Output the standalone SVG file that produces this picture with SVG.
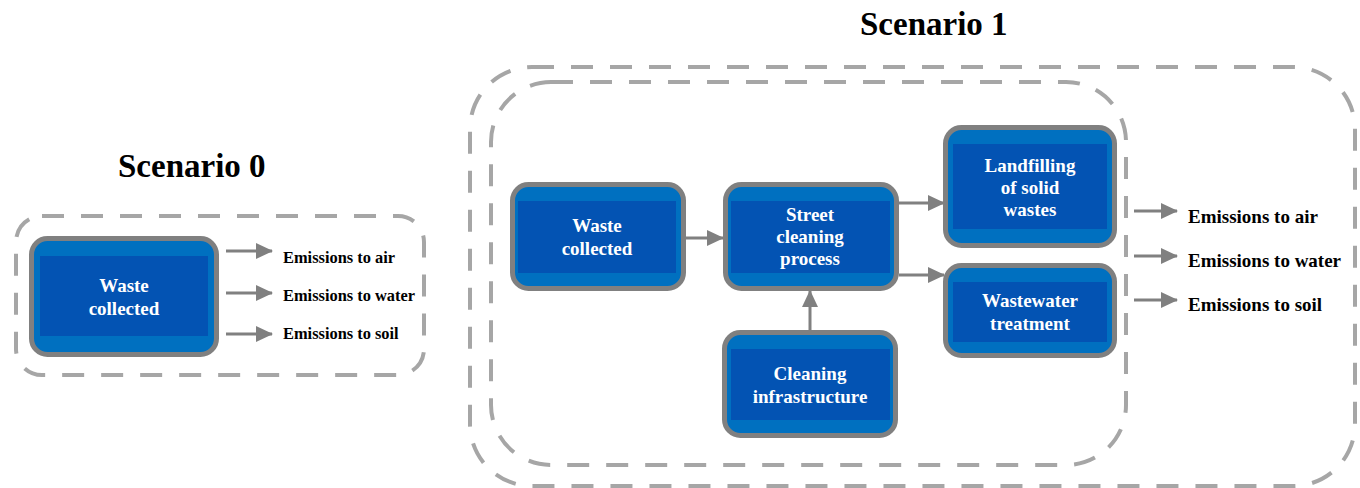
<svg xmlns="http://www.w3.org/2000/svg" width="1360" height="488" viewBox="0 0 1360 488">
<style>
.frame{fill:none;stroke:#a6a6a6;stroke-width:4;stroke-dasharray:22 17}
.outer{fill:#0070c0;stroke:#808080;stroke-width:5}
.inner{fill:#0353b3}
.nt{font-family:"Liberation Serif","Times New Roman",serif;font-weight:bold;font-size:19px;fill:#ffffff;text-anchor:middle}
.lab{font-family:"Liberation Serif","Times New Roman",serif;font-weight:bold;fill:#000000}
.title{font-family:"Liberation Serif","Times New Roman",serif;font-weight:bold;font-size:33px;fill:#000000}
.conn{stroke:#808080;stroke-width:3;fill:none;marker-end:url(#ah)}
</style>
<defs>
<marker id="ah" markerUnits="userSpaceOnUse" markerWidth="17" markerHeight="16" refX="16" refY="8" orient="auto">
<path d="M0,0 L17,8 L0,16 Z" fill="#808080"/>
</marker>
</defs>
<rect width="1360" height="488" fill="#ffffff"/>

<g id="titles">
<text class="title" x="118" y="177">Scenario 0</text>
<text class="title" x="860" y="35">Scenario 1</text>
</g>

<g id="frames">
<rect class="frame" x="16" y="216" width="408" height="159" rx="26"/>
<rect class="frame" x="470" y="67" width="885" height="419" rx="62"/>
<rect class="frame" x="491" y="82" width="635" height="383" rx="60"/>
</g>

<g id="s0-waste">
<rect class="outer" x="31.5" y="238.5" width="185" height="116" rx="16"/>
<rect class="inner" x="40" y="256" width="168" height="80"/>
<text class="nt" x="124" y="292">Waste</text>
<text class="nt" x="124" y="315">collected</text>
</g>

<g id="s1-waste">
<rect class="outer" x="512.5" y="184.5" width="171" height="104" rx="16"/>
<rect class="inner" x="518" y="201" width="158" height="72"/>
<text class="nt" x="597" y="232">Waste</text>
<text class="nt" x="597" y="255">collected</text>
</g>

<g id="s1-street">
<rect class="outer" x="725.5" y="184.5" width="171" height="104" rx="16"/>
<rect class="inner" x="731" y="201" width="159" height="72"/>
<text class="nt" x="810" y="221">Street</text>
<text class="nt" x="810" y="243">cleaning</text>
<text class="nt" x="810" y="265">process</text>
</g>

<g id="s1-landfill">
<rect class="outer" x="945.5" y="127.5" width="169" height="118" rx="16"/>
<rect class="inner" x="953" y="144" width="154" height="85"/>
<text class="nt" x="1030" y="172">Landfilling</text>
<text class="nt" x="1030" y="194">of solid</text>
<text class="nt" x="1030" y="216">wastes</text>
</g>

<g id="s1-wastewater">
<rect class="outer" x="945.5" y="265.5" width="169" height="90" rx="16"/>
<rect class="inner" x="953" y="282" width="154" height="60"/>
<text class="nt" x="1030" y="307">Wastewater</text>
<text class="nt" x="1030" y="330">treatment</text>
</g>

<g id="s1-cleaning">
<rect class="outer" x="724.5" y="332.5" width="171" height="103" rx="16"/>
<rect class="inner" x="731" y="349" width="159" height="71"/>
<text class="nt" x="810" y="380">Cleaning</text>
<text class="nt" x="810" y="403">infrastructure</text>
</g>

<g id="connectors">
<line class="conn" x1="226" y1="251" x2="272" y2="251"/>
<line class="conn" x1="226" y1="293" x2="272" y2="293"/>
<line class="conn" x1="226" y1="334" x2="272" y2="334"/>
<line class="conn" x1="686" y1="238" x2="723" y2="238"/>
<line class="conn" x1="810" y1="331" x2="810" y2="291"/>
<line class="conn" x1="899" y1="203" x2="944" y2="203"/>
<line class="conn" x1="899" y1="275" x2="944" y2="275"/>
<line class="conn" x1="1134" y1="211" x2="1177" y2="211"/>
<line class="conn" x1="1134" y1="256" x2="1177" y2="256"/>
<line class="conn" x1="1134" y1="300" x2="1177" y2="300"/>
</g>

<g id="labels">
<text class="lab" x="283" y="263" font-size="16.4">Emissions to air</text>
<text class="lab" x="283" y="301" font-size="16.4">Emissions to water</text>
<text class="lab" x="283" y="339" font-size="16.4">Emissions to soil</text>
<text class="lab" x="1188" y="223" font-size="19">Emissions to air</text>
<text class="lab" x="1188" y="267" font-size="19">Emissions to water</text>
<text class="lab" x="1188" y="311" font-size="19">Emissions to soil</text>
</g>
</svg>
